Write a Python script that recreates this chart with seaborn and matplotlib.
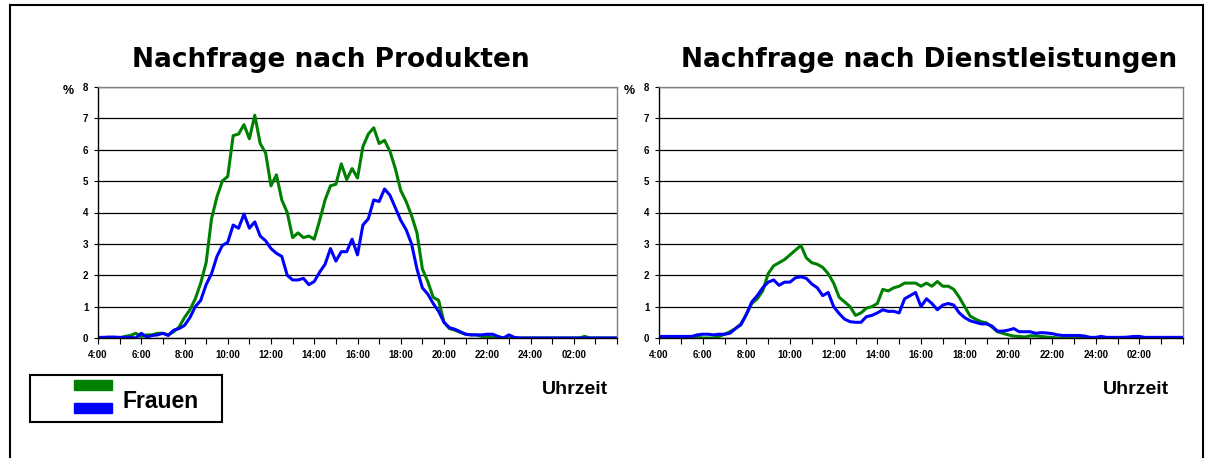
import matplotlib
matplotlib.use("Agg")
import matplotlib.pyplot as plt
from matplotlib.patches import Rectangle
import seaborn as sns
import numpy as np
import pandas as pd

# 15-minute values from 4:00 to 4:00 next day (97 points), one row per hour
produkte_gruen = [
    0.0, 0.0, 0.0, 0.0,        # 4
    0.0, 0.05, 0.08, 0.15,     # 5
    0.05, 0.1, 0.1, 0.15,      # 6
    0.15, 0.1, 0.2, 0.35,      # 7
    0.65, 0.9, 1.25, 1.75,     # 8
    2.4, 3.8, 4.5, 5.0,        # 9
    5.15, 6.45, 6.5, 6.8,      # 10
    6.35, 7.1, 6.2, 5.9,       # 11
    4.85, 5.2, 4.4, 4.0,       # 12
    3.2, 3.35, 3.2, 3.25,      # 13
    3.15, 3.75, 4.4, 4.85,     # 14
    4.9, 5.55, 5.05, 5.4,      # 15
    5.1, 6.1, 6.5, 6.7,        # 16
    6.2, 6.3, 5.95, 5.4,       # 17
    4.7, 4.35, 3.9, 3.35,      # 18
    2.2, 1.8, 1.3, 1.2,        # 19
    0.5, 0.3, 0.25, 0.18,      # 20
    0.12, 0.1, 0.1, 0.05,      # 21
    0.05, 0.03, 0.02, 0.0,     # 22
    0.0, 0.0, 0.0, 0.0,        # 23
    0.0, 0.0, 0.0, 0.0,        # 0
    0.0, 0.0, 0.0, 0.0,        # 1
    0.0, 0.0, 0.05, 0.0,       # 2
    0.0, 0.0, 0.0, 0.0,        # 3
    0.0,
]
produkte_blau = [
    0.02, 0.02, 0.03, 0.03,
    0.02, 0.02, 0.02, 0.0,
    0.15, 0.03, 0.08, 0.1,
    0.15, 0.08, 0.25, 0.3,
    0.4, 0.65, 1.0, 1.2,
    1.7, 2.05, 2.6, 2.95,
    3.05, 3.6, 3.5, 3.95,
    3.5, 3.7, 3.25, 3.1,
    2.85, 2.7, 2.6, 2.0,
    1.85, 1.85, 1.9, 1.7,
    1.8, 2.1, 2.35, 2.85,
    2.45, 2.75, 2.75, 3.15,
    2.65, 3.6, 3.8, 4.4,
    4.35, 4.75, 4.55, 4.15,
    3.75, 3.45, 3.0, 2.2,
    1.6, 1.4, 1.1, 0.85,
    0.5, 0.33, 0.28, 0.2,
    0.12, 0.1, 0.1, 0.1,
    0.12, 0.12, 0.05, 0.0,
    0.1, 0.02, 0.0, 0.0,
    0.0, 0.0, 0.0, 0.0,
    0.0, 0.0, 0.0, 0.0,
    0.0, 0.0, 0.0, 0.0,
    0.0, 0.0, 0.0, 0.0,
    0.0,
]
dienst_gruen = [
    0.02, 0.02, 0.02, 0.02,
    0.02, 0.02, 0.02, 0.02,
    0.0, 0.0, 0.0, 0.05,
    0.12, 0.2, 0.3, 0.45,
    0.75, 1.1, 1.25, 1.5,
    2.05, 2.3, 2.4, 2.5,
    2.65, 2.8, 2.95, 2.55,
    2.4, 2.35, 2.25, 2.05,
    1.75, 1.3, 1.15, 1.0,
    0.72, 0.8, 0.95, 1.0,
    1.1, 1.55, 1.5, 1.6,
    1.65, 1.75, 1.75, 1.75,
    1.65, 1.75, 1.65, 1.8,
    1.65, 1.65, 1.55, 1.3,
    1.0, 0.7, 0.6, 0.52,
    0.48, 0.35, 0.2, 0.15,
    0.1, 0.06, 0.05, 0.03,
    0.07, 0.07, 0.05, 0.03,
    0.02, 0.0, 0.0, 0.0,
    0.0, 0.0, 0.0, 0.0,
    0.0, 0.0, 0.0, 0.0,
    0.0, 0.0, 0.0, 0.0,
    0.0, 0.0, 0.0, 0.0,
    0.0, 0.0, 0.0, 0.0,
    0.0,
]
dienst_blau = [
    0.05, 0.05, 0.05, 0.05,
    0.05, 0.05, 0.05, 0.1,
    0.12, 0.12, 0.1, 0.12,
    0.12, 0.15, 0.3, 0.42,
    0.75, 1.15, 1.35, 1.6,
    1.78, 1.85, 1.68, 1.78,
    1.78, 1.92, 1.95, 1.9,
    1.72, 1.6, 1.35, 1.45,
    1.0, 0.78, 0.6, 0.52,
    0.5, 0.5, 0.68, 0.72,
    0.8, 0.9, 0.85, 0.85,
    0.8, 1.25, 1.35, 1.45,
    1.0, 1.25, 1.1, 0.9,
    1.05, 1.1, 1.05, 0.8,
    0.65, 0.55, 0.5, 0.45,
    0.45, 0.38, 0.22, 0.22,
    0.25, 0.3, 0.2, 0.2,
    0.2, 0.15, 0.17, 0.16,
    0.14, 0.1, 0.08, 0.08,
    0.08, 0.08, 0.06, 0.02,
    0.02, 0.05, 0.02, 0.02,
    0.02, 0.02, 0.03, 0.05,
    0.05, 0.02, 0.02, 0.02,
    0.02, 0.02, 0.02, 0.02,
    0.02,
]
tick_labels = ["4:00", "6:00", "8:00", "10:00", "12:00", "14:00",
               "16:00", "18:00", "20:00", "22:00", "24:00", "02:00"]
titles = ["Nachfrage nach Produkten", "Nachfrage nach Dienstleistungen"]

GREEN = "#008000"
BLUE = "#0000FF"
FONT = ["Liberation Sans", "DejaVu Sans"]

sns.set_style("white")
plt.rcParams["font.family"] = FONT
plt.rcParams["text.color"] = "black"
plt.rcParams["xtick.color"] = "black"
plt.rcParams["ytick.color"] = "black"

hours = 4 + np.arange(len(produkte_gruen)) * 0.25
df = pd.DataFrame({
    "hour": hours,
    "prod_g": produkte_gruen, "prod_b": produkte_blau,
    "dien_g": dienst_gruen, "dien_b": dienst_blau,
})

fig = plt.figure(figsize=(12.13, 4.58), dpi=100)

# outer frame
fig.patches.append(Rectangle((10 / 1213, -0.05), 1193 / 1213, 1.05 - 5 / 458,
                             transform=fig.transFigure, fill=False,
                             edgecolor="black", linewidth=1.5))

panels = [
    (98, 519, "prod_g", "prod_b", titles[0], 331, 575),
    (659, 524, "dien_g", "dien_b", titles[1], 929, 1136),
]
for left, width, col_g, col_b, title, title_x, uhr_x in panels:
    ax = fig.add_axes([left / 1213, 120 / 458, width / 1213, 251 / 458])
    sns.lineplot(data=df, x="hour", y=col_g, color=GREEN, linewidth=2.2, ax=ax)
    sns.lineplot(data=df, x="hour", y=col_b, color=BLUE, linewidth=2.2, ax=ax)
    ax.set_xlim(4, 28)
    ax.set_ylim(0, 8)
    ax.set_yticks(range(0, 9))
    ax.set_yticklabels([str(i) for i in range(9)], fontsize=7, fontweight="bold")
    ax.set_xticks(np.arange(4, 29, 1), minor=True)
    ax.set_xticks(np.arange(4, 27, 2))
    ax.set_xticklabels(tick_labels, fontsize=7, fontweight="bold")
    ax.tick_params(axis="x", which="both", direction="out", length=4, width=0.8,
                   color="black", bottom=True, pad=5)
    ax.tick_params(axis="y", direction="out", length=3, width=0.8,
                   color="black", left=True, pad=4)
    ax.grid(axis="y", color="black", linewidth=0.9)
    ax.set_axisbelow(True)
    ax.set_xlabel("")
    ax.set_ylabel("")
    for side in ["left", "bottom"]:
        ax.spines[side].set_color("black")
        ax.spines[side].set_linewidth(1.0)
    for side in ["top", "right"]:
        ax.spines[side].set_color("#808080")
        ax.spines[side].set_linewidth(1.0)
    fig.text(title_x / 1213, 1 - 60 / 458, title, ha="center", va="center",
             fontsize=19, fontweight="bold", family="DejaVu Sans")
    fig.text((left - 30) / 1213, 1 - 91 / 458, "%", ha="center", va="center",
             fontsize=9, fontweight="bold")
    fig.text(uhr_x / 1213, 1 - 390 / 458, "Uhrzeit", ha="center", va="center",
             fontsize=14, fontweight="bold")

# legend box
fig.patches.append(Rectangle((30 / 1213, 1 - 422 / 458), 192 / 1213, 47 / 458,
                             transform=fig.transFigure, fill=False,
                             edgecolor="black", linewidth=1.5))
fig.patches.append(Rectangle((74 / 1213, 1 - 390 / 458), 38 / 1213, 10 / 458,
                             transform=fig.transFigure, color=GREEN))
fig.patches.append(Rectangle((74 / 1213, 1 - 413 / 458), 38 / 1213, 10 / 458,
                             transform=fig.transFigure, color=BLUE))
fig.text(122 / 1213, 1 - 401 / 458, "Frauen", ha="left", va="center",
         fontsize=16.5, fontweight="bold")

fig.savefig("out.png", dpi=100)
